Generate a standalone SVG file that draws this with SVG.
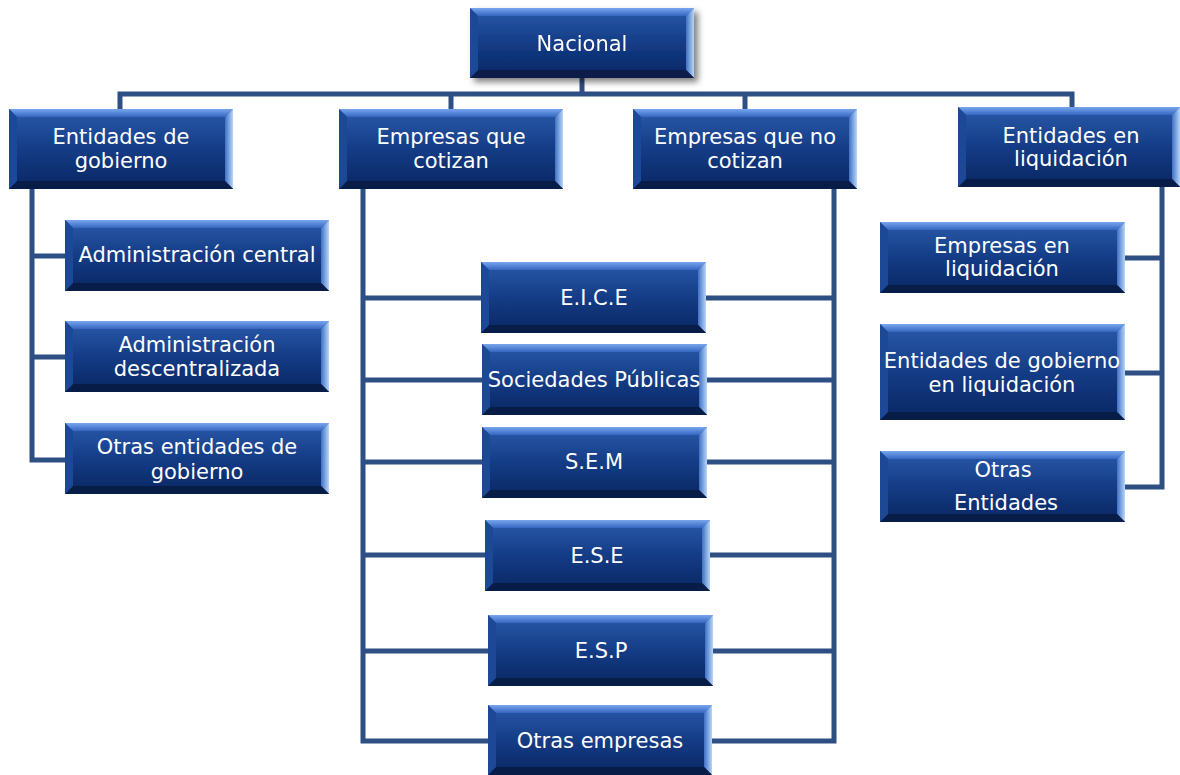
<svg xmlns="http://www.w3.org/2000/svg" width="1180" height="775" viewBox="0 0 1180 775">
<style>
.bg{fill:url(#g)}
.bt{fill:url(#gt)}
.br{fill:url(#gr)}
.bl{fill:#1c4896}
.bb{fill:#081c48}
.t{font-family:"DejaVu Sans",Verdana,sans-serif;font-size:21px;fill:#ffffff;text-anchor:middle}
.c{fill:none;stroke:#2e4f84;stroke-width:5;stroke-linejoin:miter}
</style>
<defs>
<linearGradient id="g" x1="0" y1="0" x2="0" y2="1">
<stop offset="0" stop-color="#2a5aaa"/>
<stop offset="0.5" stop-color="#143c86"/>
<stop offset="1" stop-color="#092662"/>
</linearGradient>
<linearGradient id="gt" x1="0" y1="0" x2="0" y2="1">
<stop offset="0" stop-color="#78a6ee"/>
<stop offset="1" stop-color="#3566c0"/>
</linearGradient>
<linearGradient id="gr" x1="0" y1="0" x2="1" y2="0">
<stop offset="0" stop-color="#3f70c4"/>
<stop offset="1" stop-color="#b9d6f8"/>
</linearGradient>
<filter id="sh" x="-10%" y="-10%" width="125%" height="140%">
<feDropShadow dx="4" dy="4" stdDeviation="3" flood-color="#000" flood-opacity="0.5"/>
</filter>
</defs>

<g id="connectors">
<path class="c" d="M582 78V94"/>
<path class="c" d="M120 109V94H1072V107"/>
<path class="c" d="M451 94V109"/>
<path class="c" d="M745 94V109"/>
<path class="c" d="M32 189V460H65"/>
<path class="c" d="M32 256H65"/>
<path class="c" d="M32 357H65"/>
<path class="c" d="M363 189V741H488"/>
<path class="c" d="M363 298H481"/>
<path class="c" d="M363 380H482"/>
<path class="c" d="M363 462H482"/>
<path class="c" d="M363 555H485"/>
<path class="c" d="M363 651H488"/>
<path class="c" d="M834 189V741H712"/>
<path class="c" d="M706 298H834"/>
<path class="c" d="M707 380H834"/>
<path class="c" d="M707 462H834"/>
<path class="c" d="M710 555H834"/>
<path class="c" d="M713 651H834"/>
<path class="c" d="M1162 187V487H1125"/>
<path class="c" d="M1125 258H1162"/>
<path class="c" d="M1125 373H1162"/>
</g>

<g id="nacional" filter="url(#sh)">
<rect class="bg" x="470" y="8" width="224" height="70"/>
<polygon class="bt" points="470,8 694,8 686,16 478,16"/>
<polygon class="br" points="694,8 694,78 686,70 686,16"/>
<polygon class="bb" points="470,78 694,78 686,70 478,70"/>
<polygon class="bl" points="470,8 478,16 478,70 470,78"/>
<text class="t" x="582" y="51">Nacional</text>
</g>

<g id="entidades-gobierno">
<rect class="bg" x="9" y="109" width="224" height="80"/>
<polygon class="bt" points="9,109 233,109 225,117 17,117"/>
<polygon class="br" points="233,109 233,189 225,181 225,117"/>
<polygon class="bb" points="9,189 233,189 225,181 17,181"/>
<polygon class="bl" points="9,109 17,117 17,181 9,189"/>
<text class="t" x="121" y="144">Entidades de</text>
<text class="t" x="121" y="168">gobierno</text>
</g>

<g id="empresas-cotizan">
<rect class="bg" x="339" y="109" width="224" height="80"/>
<polygon class="bt" points="339,109 563,109 555,117 347,117"/>
<polygon class="br" points="563,109 563,189 555,181 555,117"/>
<polygon class="bb" points="339,189 563,189 555,181 347,181"/>
<polygon class="bl" points="339,109 347,117 347,181 339,189"/>
<text class="t" x="451" y="144">Empresas que</text>
<text class="t" x="451" y="168">cotizan</text>
</g>

<g id="empresas-no-cotizan">
<rect class="bg" x="633" y="109" width="224" height="80"/>
<polygon class="bt" points="633,109 857,109 849,117 641,117"/>
<polygon class="br" points="857,109 857,189 849,181 849,117"/>
<polygon class="bb" points="633,189 857,189 849,181 641,181"/>
<polygon class="bl" points="633,109 641,117 641,181 633,189"/>
<text class="t" x="745" y="144">Empresas que no</text>
<text class="t" x="745" y="168">cotizan</text>
</g>

<g id="entidades-liquidacion">
<rect class="bg" x="958" y="107" width="222" height="80"/>
<polygon class="bt" points="958,107 1180,107 1172,115 966,115"/>
<polygon class="br" points="1180,107 1180,187 1172,179 1172,115"/>
<polygon class="bb" points="958,187 1180,187 1172,179 966,179"/>
<polygon class="bl" points="958,107 966,115 966,179 958,187"/>
<text class="t" x="1071" y="143">Entidades en</text>
<text class="t" x="1071" y="166">liquidación</text>
</g>

<g id="administracion-central">
<rect class="bg" x="65" y="220" width="264" height="71"/>
<polygon class="bt" points="65,220 329,220 321,228 73,228"/>
<polygon class="br" points="329,220 329,291 321,283 321,228"/>
<polygon class="bb" points="65,291 329,291 321,283 73,283"/>
<polygon class="bl" points="65,220 73,228 73,283 65,291"/>
<text class="t" x="197" y="262">Administración central</text>
</g>

<g id="administracion-descentralizada">
<rect class="bg" x="65" y="321" width="264" height="71"/>
<polygon class="bt" points="65,321 329,321 321,329 73,329"/>
<polygon class="br" points="329,321 329,392 321,384 321,329"/>
<polygon class="bb" points="65,392 329,392 321,384 73,384"/>
<polygon class="bl" points="65,321 73,329 73,384 65,392"/>
<text class="t" x="197" y="352">Administración</text>
<text class="t" x="197" y="376">descentralizada</text>
</g>

<g id="otras-entidades-gobierno">
<rect class="bg" x="65" y="423" width="264" height="71"/>
<polygon class="bt" points="65,423 329,423 321,431 73,431"/>
<polygon class="br" points="329,423 329,494 321,486 321,431"/>
<polygon class="bb" points="65,494 329,494 321,486 73,486"/>
<polygon class="bl" points="65,423 73,431 73,486 65,494"/>
<text class="t" x="197" y="454">Otras entidades de</text>
<text class="t" x="197" y="479">gobierno</text>
</g>

<g id="eice">
<rect class="bg" x="481" y="262" width="225" height="71"/>
<polygon class="bt" points="481,262 706,262 698,270 489,270"/>
<polygon class="br" points="706,262 706,333 698,325 698,270"/>
<polygon class="bb" points="481,333 706,333 698,325 489,325"/>
<polygon class="bl" points="481,262 489,270 489,325 481,333"/>
<text class="t" x="594" y="305">E.I.C.E</text>
</g>

<g id="sociedades-publicas">
<rect class="bg" x="482" y="344" width="225" height="71"/>
<polygon class="bt" points="482,344 707,344 699,352 490,352"/>
<polygon class="br" points="707,344 707,415 699,407 699,352"/>
<polygon class="bb" points="482,415 707,415 699,407 490,407"/>
<polygon class="bl" points="482,344 490,352 490,407 482,415"/>
<text class="t" x="594" y="387">Sociedades Públicas</text>
</g>

<g id="sem">
<rect class="bg" x="482" y="427" width="225" height="71"/>
<polygon class="bt" points="482,427 707,427 699,435 490,435"/>
<polygon class="br" points="707,427 707,498 699,490 699,435"/>
<polygon class="bb" points="482,498 707,498 699,490 490,490"/>
<polygon class="bl" points="482,427 490,435 490,490 482,498"/>
<text class="t" x="594" y="469">S.E.M</text>
</g>

<g id="ese">
<rect class="bg" x="485" y="520" width="225" height="71"/>
<polygon class="bt" points="485,520 710,520 702,528 493,528"/>
<polygon class="br" points="710,520 710,591 702,583 702,528"/>
<polygon class="bb" points="485,591 710,591 702,583 493,583"/>
<polygon class="bl" points="485,520 493,528 493,583 485,591"/>
<text class="t" x="597" y="563">E.S.E</text>
</g>

<g id="esp">
<rect class="bg" x="488" y="615" width="225" height="71"/>
<polygon class="bt" points="488,615 713,615 705,623 496,623"/>
<polygon class="br" points="713,615 713,686 705,678 705,623"/>
<polygon class="bb" points="488,686 713,686 705,678 496,678"/>
<polygon class="bl" points="488,615 496,623 496,678 488,686"/>
<text class="t" x="601" y="658">E.S.P</text>
</g>

<g id="otras-empresas">
<rect class="bg" x="488" y="705" width="224" height="70"/>
<polygon class="bt" points="488,705 712,705 704,713 496,713"/>
<polygon class="br" points="712,705 712,775 704,767 704,713"/>
<polygon class="bb" points="488,775 712,775 704,767 496,767"/>
<polygon class="bl" points="488,705 496,713 496,767 488,775"/>
<text class="t" x="600" y="748">Otras empresas</text>
</g>

<g id="empresas-liquidacion">
<rect class="bg" x="880" y="222" width="245" height="71"/>
<polygon class="bt" points="880,222 1125,222 1117,230 888,230"/>
<polygon class="br" points="1125,222 1125,293 1117,285 1117,230"/>
<polygon class="bb" points="880,293 1125,293 1117,285 888,285"/>
<polygon class="bl" points="880,222 888,230 888,285 880,293"/>
<text class="t" x="1002" y="253">Empresas en</text>
<text class="t" x="1002" y="276">liquidación</text>
</g>

<g id="entidades-gobierno-liquidacion">
<rect class="bg" x="880" y="324" width="245" height="96"/>
<polygon class="bt" points="880,324 1125,324 1117,332 888,332"/>
<polygon class="br" points="1125,324 1125,420 1117,412 1117,332"/>
<polygon class="bb" points="880,420 1125,420 1117,412 888,412"/>
<polygon class="bl" points="880,324 888,332 888,412 880,420"/>
<text class="t" x="1002" y="368">Entidades de gobierno</text>
<text class="t" x="1002" y="392">en liquidación</text>
</g>

<g id="otras-entidades">
<rect class="bg" x="880" y="451" width="245" height="71"/>
<polygon class="bt" points="880,451 1125,451 1117,459 888,459"/>
<polygon class="br" points="1125,451 1125,522 1117,514 1117,459"/>
<polygon class="bb" points="880,522 1125,522 1117,514 888,514"/>
<polygon class="bl" points="880,451 888,459 888,514 880,522"/>
<text class="t" x="1003" y="477">Otras</text>
<text class="t" x="1006" y="510">Entidades</text>
</g>
</svg>
